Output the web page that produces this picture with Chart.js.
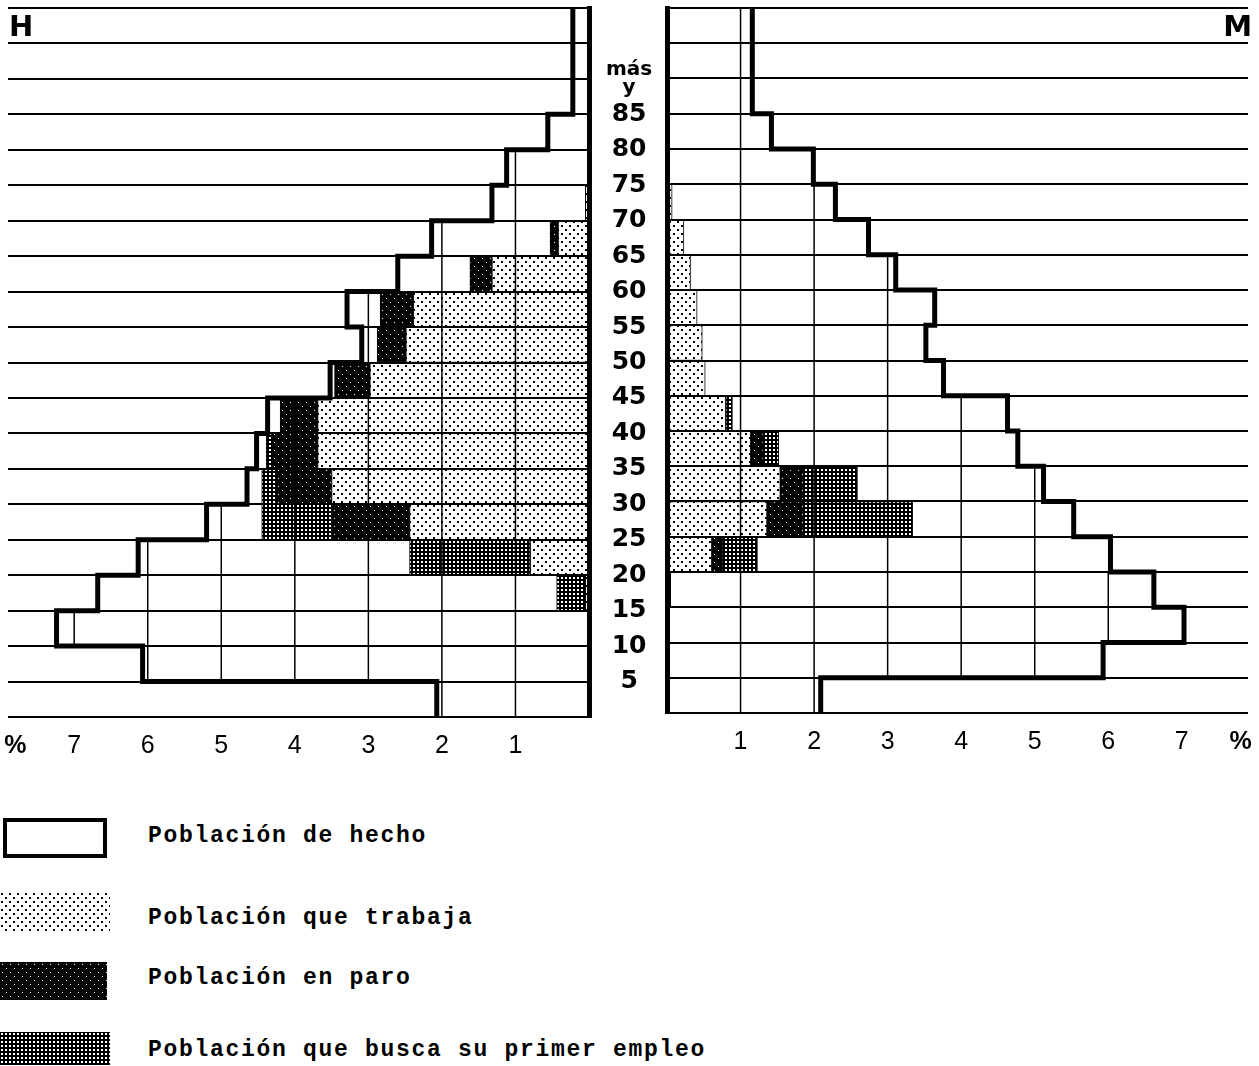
<!DOCTYPE html>
<html><head><meta charset="utf-8">
<script src="https://cdn.jsdelivr.net/npm/chart.js@4/dist/chart.umd.min.js"></script>
<style>
html,body{margin:0;padding:0;background:#fff;}
body{width:1259px;height:1066px;position:relative;overflow:hidden;}
canvas.chart{position:absolute;top:0;}
.sex{position:absolute;top:12px;font:bold 29px "DejaVu Sans";line-height:1;color:#000;}
.sw{position:absolute;left:0;}
.legtxt{position:absolute;left:148px;font:bold 23px "Liberation Mono";letter-spacing:1.7px;white-space:nowrap;line-height:1;color:#000;}
</style></head>
<body>
<canvas id="cH" class="chart" width="668" height="765" style="left:0px"></canvas>
<canvas id="cM" class="chart" width="619" height="765" style="left:640px"></canvas>
<div class="sex" style="left:9px">H</div>
<div class="sex" style="right:7px">M</div>
<div id="legend"></div>
<script>
// ---- categories and tick labels ----
const ageGroups = ['0-4','5-9','10-14','15-19','20-24','25-29','30-34','35-39','40-44','45-49',
                   '50-54','55-59','60-64','65-69','70-74','75-79','80-84','85-89','90-94','95+'];
const ageTickValues = [5,10,15,20,25,30,35,40,45,50,55,60,65,70,75,80,85];
const openAgeTick = 90;
const openAgeLabel = ['más','y'];
const pctTicks = [1,2,3,4,5,6,7];
const pctUnitTick = 7.8;
const pctUnitLabel = '%';
const legendLabels = ['Población de hecho','Población que trabaja','Población en paro','Población que busca su primer empleo'];

// ---- H (hombres), % of population, index 0 = 0-4 years ----
const menTotal    = [2.07,6.07,7.24,6.68,6.13,5.20,4.65,4.52,4.37,3.52,3.09,3.29,2.60,2.14,1.32,1.12,0.56,0.22,0.22,0.22];
const menWork     = [0,0,0,0.05,0.80,2.44,3.50,3.69,3.69,2.98,2.49,2.39,1.32,0.42,0.05,0,0,0,0,0];
const menParo     = [0,0,0,0,0,1.06,0.74,0.62,0.51,0.48,0.39,0.45,0.30,0.11,0,0,0,0,0,0];
const menFirstJob = [0,0,0,0.39,1.64,0.95,0.21,0.08,0,0,0,0,0,0,0,0,0,0,0,0];

// ---- M (mujeres) ----
const womenTotal    = [2.09,5.93,7.03,6.62,6.03,5.53,5.12,4.77,4.63,3.76,3.52,3.64,3.11,2.74,2.29,1.99,1.42,1.16,1.16,1.16];
const womenWork     = [0,0,0,0.05,0.61,1.36,1.54,1.14,0.80,0.52,0.48,0.41,0.32,0.23,0.07,0,0,0,0,0];
const womenParo     = [0,0,0,0,0.14,0.50,0.32,0.17,0,0,0,0,0,0,0,0,0,0,0,0];
const womenFirstJob = [0,0,0,0,0.48,1.48,0.73,0.21,0.09,0,0,0,0,0,0,0,0,0,0,0];

// ---- patterns ----
function tile(w,h,draw){const c=document.createElement('canvas');c.width=w;c.height=h;draw(c.getContext('2d'));return c;}
const pctx = document.createElement('canvas').getContext('2d');
const dotTile = tile(8,8,g=>{g.fillStyle='#fff';g.fillRect(0,0,8,8);g.fillStyle='#000';g.fillRect(1,1,2,2);g.fillRect(5,5,2,2);});
const paroTile = tile(8,8,g=>{g.fillStyle='#000';g.fillRect(0,0,8,8);g.fillStyle='#fff';g.fillRect(2,2,1,1);g.fillRect(6,6,1,1);});
const firstTile = tile(4,4,g=>{g.fillStyle='#000';g.fillRect(0,0,4,4);g.fillStyle='#fff';g.fillRect(1,1,2,2);});
const dotPat = pctx.createPattern(dotTile,'repeat');
const paroPat = pctx.createPattern(paroTile,'repeat');
const firstPat = pctx.createPattern(firstTile,'repeat');

function buildChart(id, side, total, work, paro, first){
  const isH = side === 'H';
  const workBars  = work.map(w => w > 0 ? [0, w] : null);
  const paroBars  = paro.map((p,i) => p > 0 ? [work[i], work[i] + p] : null);
  const firstBars = first.map((f,i) => f > 0 ? [work[i] + paro[i], work[i] + paro[i] + f] : null);
  const totalBars = total.map(t => [0, t]);
  const outline = [];
  for (let i = total.length - 1; i >= 0; i--) {
    outline.push({x: total[i], y: (i + 1) * 5});
    outline.push({x: total[i], y: i * 5});
  }
  const barCommon = {xAxisID:'x', yAxisID:'y', grouped:false, barPercentage:1, categoryPercentage:1, borderSkipped:false};
  const innerGrid = {
    id: 'innerGrid',
    afterDatasetsDraw(chart){
      const xs = chart.scales.x, ys = chart.scales.yAge, ctx = chart.ctx;
      ctx.save(); ctx.strokeStyle = '#000'; ctx.lineWidth = 1.5;
      total.forEach((t,i) => {
        const y0 = ys.getPixelForValue(i*5), y1 = ys.getPixelForValue(i*5+5);
        pctTicks.forEach(k => {
          if (k < t - 0.03) {
            const px = xs.getPixelForValue(k);
            ctx.beginPath(); ctx.moveTo(px, y0); ctx.lineTo(px, y1); ctx.stroke();
          }
        });
      });
      ctx.restore();
    }
  };
  return new Chart(document.getElementById(id), {
    type: 'bar',
    data: {
      labels: ageGroups,
      datasets: [
        Object.assign({label: legendLabels[0], data: totalBars, backgroundColor:'#fff', borderWidth:0, order:5}, barCommon),
        Object.assign({label: legendLabels[1], data: workBars, backgroundColor: dotPat, borderColor:'#000', borderWidth:1, order:3}, barCommon),
        Object.assign({label: legendLabels[2], data: paroBars, backgroundColor: paroPat, borderColor:'#000', borderWidth:1, order:2}, barCommon),
        Object.assign({label: legendLabels[3], data: firstBars, backgroundColor: firstPat, borderColor:'#000', borderWidth:1, order:1}, barCommon),
        {type:'line', label: legendLabels[0], data: outline, xAxisID:'x', yAxisID:'yAge', borderColor:'#000',
         borderWidth:5, pointRadius:0, fill:false, tension:0, order:-1, borderJoinStyle:'miter', borderCapStyle:'square'}
      ]
    },
    options: {
      indexAxis: 'y',
      responsive: false,
      animation: false,
      events: [],
      layout: {padding: isH ? {left:8, top:8, right:0, bottom:0} : {left:27, top:8, right:11, bottom:0}},
      plugins: {legend:{display:false}, tooltip:{enabled:false}},
      scales: {
        x: {
          type: 'linear', reverse: isH, min: 0, max: 7.9, offset: false,
          afterBuildTicks: s => { s.ticks = [0, ...pctTicks, pctUnitTick].map(v => ({value: v})); },
          afterFit: s => { s.height = isH ? 48 : 52; s.paddingLeft = 0; s.paddingRight = 0; },
          grid: {display:false}, border: {display:false},
          ticks: {
            autoSkip:false, maxRotation:0, padding:6, color:'#000',
            font: c => ({family:'"Liberation Sans Narrow", "Liberation Sans"', size:25,
                         weight: (c.tick && c.tick.value === pctUnitTick) ? 'bold' : 'normal'}),
            callback: v => v === pctUnitTick ? pctUnitLabel : (pctTicks.includes(v) ? String(v) : '')
          }
        },
        y: {type:'category', reverse:true, offset:true, display:false},
        yAge: {
          type: 'linear', axis: 'y', position: isH ? 'right' : 'left', min: 0, max: 100, offset: false,
          afterBuildTicks: s => { const t=[]; for (let v=0; v<=100; v+=5) t.push({value:v}); s.ticks = t; },
          afterFit: s => { s.width = isH ? 79 : 0; s.paddingTop = 0; s.paddingBottom = 0; },
          grid: {color:'#000', lineWidth:2, drawTicks:false, offset:false, z:1},
          border: {display:true, color:'#000', width:5, z:2},
          ticks: {
            display: isH, autoSkip: false, padding: 17, crossAlign: 'center', color:'#000', z:2,
            font: c => (c.tick && c.tick.value === openAgeTick)
                ? {family:'"DejaVu Sans"', size:20, weight:'bold', lineHeight:0.9}
                : {family:'"DejaVu Sans"', size:25, weight:'bold'},
            callback: v => v === openAgeTick ? openAgeLabel : (ageTickValues.includes(v) ? String(v) : '')
          }
        }
      }
    },
    plugins: [innerGrid]
  });
}

buildChart('cH', 'H', menTotal, menWork, menParo, menFirstJob);
buildChart('cM', 'M', womenTotal, womenWork, womenParo, womenFirstJob);

// ---- legend ----
const legendBoxes = [
  {x:3, y:818, w:104, h:40, ty:838, draw:(g,w,h)=>{g.fillStyle='#fff';g.fillRect(0,0,w,h);g.strokeStyle='#000';g.lineWidth=4;g.strokeRect(2,2,w-4,h-4);}},
  {x:0, y:892, w:110, h:40, ty:920, draw:(g,w,h)=>{g.fillStyle=g.createPattern(dotTile,'repeat');g.fillRect(0,0,w,h);}},
  {x:0, y:962, w:107, h:38, ty:980, draw:(g,w,h)=>{g.fillStyle=g.createPattern(paroTile,'repeat');g.fillRect(0,0,w,h);}},
  {x:0, y:1032, w:110, h:33, ty:1052, draw:(g,w,h)=>{g.fillStyle=g.createPattern(firstTile,'repeat');g.fillRect(0,0,w,h);}}
];
const leg = document.getElementById('legend');
legendBoxes.forEach((b,i) => {
  const c = document.createElement('canvas'); c.width=b.w; c.height=b.h; c.className='sw';
  c.style.left=b.x+'px'; c.style.top=b.y+'px';
  b.draw(c.getContext('2d'), b.w, b.h); leg.appendChild(c);
  const t = document.createElement('div'); t.className='legtxt'; t.textContent = legendLabels[i];
  t.style.top = (b.ty - 13) + 'px'; leg.appendChild(t);
});
</script>
</body></html>
